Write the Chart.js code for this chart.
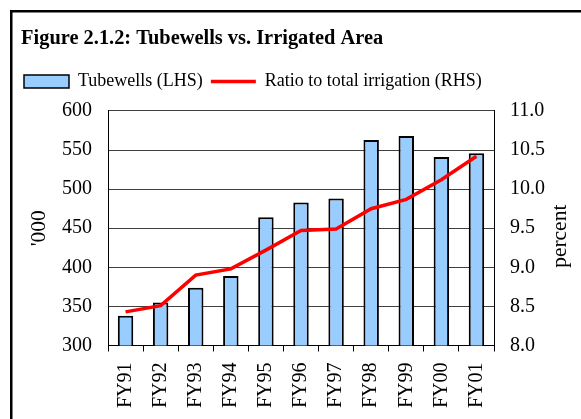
<!DOCTYPE html>
<html>
<head>
<meta charset="utf-8">
<title>Tubewells vs. Irrigated Area</title>
<script src="https://cdn.jsdelivr.net/npm/chart.js@4.4.1/dist/chart.umd.min.js"></script>
<style>
  html, body { margin: 0; padding: 0; background: #fff; overflow: hidden; }
  #wrap { width: 581px; height: 419px; }
  #chart { display: block; }
</style>
</head>
<body>
<div id="wrap"><canvas id="chart" width="581" height="419"></canvas></div>
<script>
// Data
const categories = ['FY91', 'FY92', 'FY93', 'FY94', 'FY95', 'FY96', 'FY97', 'FY98', 'FY99', 'FY00', 'FY01'];
const tubewells = [338, 355, 374, 389, 464, 483, 488, 563, 568, 541, 546];
const ratio = [8.43, 8.51, 8.90, 8.98, 9.22, 9.47, 9.49, 9.75, 9.87, 10.12, 10.42];
const leftTicks = [300, 350, 400, 450, 500, 550, 600];
const rightTicks = [8.0, 8.5, 9.0, 9.5, 10.0, 10.5, 11.0];

const serif = "'Liberation Serif', 'Times New Roman', serif";

// Bingkai luar dan judul sumbu kanan
const framePlugin = {
  id: 'frame',
  afterInit(chart) {
    // beri jarak antara legenda dan area grafik
    const legend = chart.legend;
    const fit = legend.fit;
    legend.fit = function () {
      fit.call(this);
      this.height += 10.5;
    };
  },
  beforeDraw(chart) {
    const ctx = chart.ctx;
    ctx.save();
    ctx.fillStyle = '#fff';
    ctx.fillRect(0, 0, chart.width, chart.height);
    ctx.fillStyle = '#000';
    // garis kiri dan atas saja
    ctx.fillRect(10, 10, 2.5, chart.height - 10);
    ctx.fillRect(10, 10, chart.width - 10, 2.5);
    ctx.restore();
  },
  afterDraw(chart) {
    const ctx = chart.ctx;
    const y1 = chart.scales.y1;
    ctx.save();
    // tutup tepi kanan
    ctx.fillStyle = '#fff';
    ctx.fillRect(chart.width - 8, 14, 8, chart.height - 14);
    ctx.translate(y1.right - 21, (chart.chartArea.top + chart.chartArea.bottom) / 2 + 8);
    ctx.rotate(-Math.PI / 2);
    ctx.font = '21.5px ' + serif;
    ctx.fillStyle = '#000';
    ctx.textAlign = 'center';
    ctx.textBaseline = 'middle';
    ctx.fillText('percent', 0, 0);
    ctx.restore();
  }
};

function createChart() {
  const ctx = document.getElementById('chart').getContext('2d');

  new Chart(ctx, {
    type: 'bar',
    data: {
      labels: categories,
      datasets: [{
        type: 'bar',
        label: 'Tubewells (LHS)',
        data: tubewells,
        yAxisID: 'y',
        backgroundColor: '#99ccff',
        borderColor: '#000',
        borderWidth: 2,
        borderSkipped: false,
        categoryPercentage: 1,
        barPercentage: 0.44,
        order: 1
      }, {
        type: 'line',
        label: 'Ratio to total irrigation (RHS)',
        data: ratio,
        yAxisID: 'y1',
        borderColor: '#ff0000',
        backgroundColor: '#ff0000',
        borderWidth: 3.5,
        pointRadius: 0,
        tension: 0,
        order: 0
      }]
    },
    options: {
      responsive: false,
      animation: false,
      layout: { padding: { top: 12, left: 16, right: 0, bottom: 0 } },
      plugins: {
        title: {
          display: true,
          text: ' Figure 2.1.2: Tubewells vs. Irrigated Area',
          align: 'start',
          color: '#000',
          font: { family: serif, size: 20.4, weight: 'bold' },
          padding: { top: 14, bottom: 14 }
        },
        legend: {
          display: true,
          align: 'start',
          labels: {
            color: '#000',
            font: { family: serif, size: 18 },
            usePointStyle: true,
            pointStyleWidth: 45,
            boxHeight: 13,
            padding: 8,
            generateLabels: chart => chart.data.datasets.map((ds, i) => ({
              text: ds.label,
              fillStyle: ds.backgroundColor,
              strokeStyle: ds.borderColor,
              lineWidth: ds.type === 'line' ? 3.5 : 1.5,
              pointStyle: ds.type === 'line' ? 'line' : 'rect',
              datasetIndex: i,
              hidden: false,
              fontColor: '#000'
            }))
          }
        },
        tooltip: { enabled: false }
      },
      scales: {
        x: {
          offset: true,
          grid: { display: true, drawOnChartArea: false, drawTicks: true, tickLength: 6, color: '#000', offset: true },
          border: { display: true, color: '#000', width: 1 },
          ticks: {
            color: '#000',
            font: { family: serif, size: 20 },
            minRotation: 90,
            maxRotation: 90,
            autoSkip: false,
            padding: 11
          },
          afterFit(s) { s.height = 73.5; }
        },
        y: {
          position: 'left',
          min: leftTicks[0],
          max: leftTicks[leftTicks.length - 1],
          afterBuildTicks(s) { s.ticks = leftTicks.map(v => ({ value: v })); },
          grid: { color: '#404040', lineWidth: 1, drawTicks: false },
          border: { display: true, color: '#000', width: 1 },
          ticks: { color: '#000', font: { family: serif, size: 20 }, padding: 16 },
          title: {
            display: true,
            text: "'000",
            color: '#000',
            font: { family: serif, size: 21.5 },
            padding: { top: 10, bottom: 0 }
          },
          afterFit(s) { s.width = 92; }
        },
        y1: {
          position: 'right',
          min: rightTicks[0],
          max: rightTicks[rightTicks.length - 1],
          afterBuildTicks(s) { s.ticks = rightTicks.map(v => ({ value: v })); },
          grid: { display: false, drawTicks: false },
          border: { display: true, color: '#000', width: 1 },
          ticks: {
            color: '#000',
            font: { family: serif, size: 20 },
            padding: 16,
            callback: v => Number(v).toFixed(1)
          },
          afterFit(s) { s.width = 87; }
        }
      }
    },
    plugins: [framePlugin]
  });
}

createChart();
</script>
</body>
</html>
